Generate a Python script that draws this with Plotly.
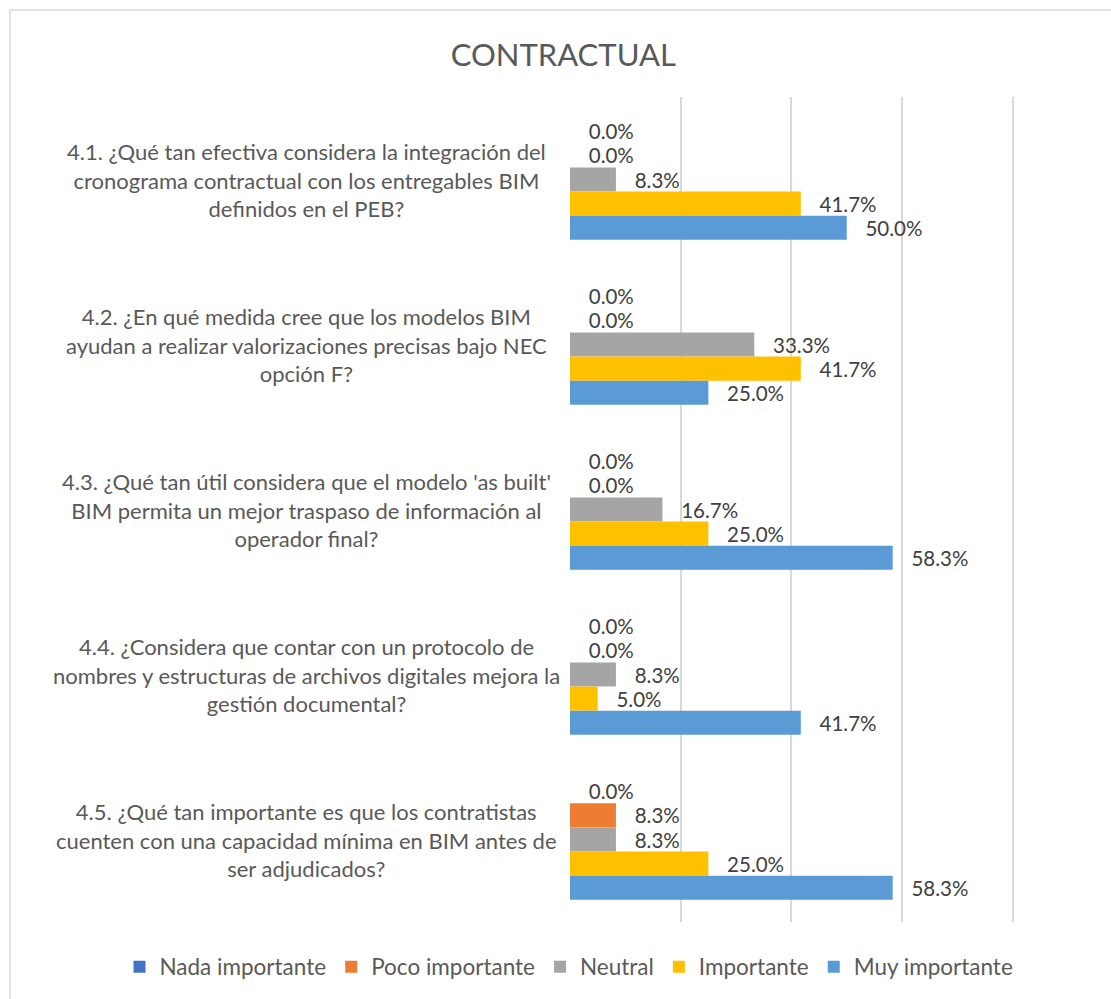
import plotly.graph_objects as go

categories = [
    "4.1. ¿Qué tan efectiva considera la integración del<br>cronograma contractual con los entregables BIM<br>definidos en el PEB?",
    "4.2. ¿En qué medida cree que los modelos BIM<br>ayudan a realizar valorizaciones precisas bajo NEC<br>opción F?",
    "4.3. ¿Qué tan útil considera que el modelo 'as built'<br>BIM permita un mejor traspaso de información al<br>operador final?",
    "4.4. ¿Considera que contar con un protocolo de<br>nombres y estructuras de archivos digitales mejora la<br>gestión documental?",
    "4.5. ¿Qué tan importante es que los contratistas<br>cuenten con una capacidad mínima en BIM antes de<br>ser adjudicados?",
]
cat_ids = ["Q4.1", "Q4.2", "Q4.3", "Q4.4", "Q4.5"]

series_names = ["Nada importante", "Poco importante", "Neutral", "Importante", "Muy importante"]
nada = [0.0, 0.0, 0.0, 0.0, 0.0]
poco = [0.0, 0.0, 0.0, 0.0, 0.083]
neutral = [0.083, 0.333, 0.167, 0.083, 0.083]
importante = [0.417, 0.417, 0.250, 0.050, 0.250]
muy = [0.500, 0.250, 0.583, 0.417, 0.583]
colors = ["#4472C4", "#ED7D31", "#A5A5A5", "#FFC000", "#5B9BD5"]

FONT = "Lato, Open Sans, sans-serif"
W, H = 1111, 999
ML, MR, MT, MB = 10, 10, 97, 77
PW = W - ML - MR
PH = H - MT - MB
PAD = "\u00a0\u00a0\u00a0"


def px_x(p):
    return (p - ML) / PW


def px_y(p):
    return (H - MB - p) / PH


fig = go.Figure()
for name, vals, col in zip(series_names, [nada, poco, neutral, importante, muy], colors):
    fig.add_trace(go.Bar(
        y=cat_ids, x=vals, name=name, orientation="h",
        marker=dict(color=col, line=dict(width=0)),
        text=[f"{PAD}{v*100:.1f}%" for v in vals],
        textposition="outside", cliponaxis=False,
        textfont=dict(family=FONT, size=20.5, color="#404040"),
    ))

for cid, label in zip(cat_ids, categories):
    fig.add_annotation(
        x=px_x(306), xref="paper", y=cid, yref="y", text=label, showarrow=False,
        xanchor="center", yanchor="middle", align="center",
        font=dict(family=FONT, size=22, color="#595959"),
    )

fig.add_shape(type="rect", xref="paper", yref="paper",
              x0=px_x(10), x1=px_x(1112), y0=px_y(1002), y1=px_y(10),
              line=dict(color="#D9D9D9", width=1.5), fillcolor="rgba(0,0,0,0)", layer="below")

fig.update_layout(
    width=W, height=H,
    margin=dict(l=ML, r=MR, t=MT, b=MB, autoexpand=False),
    paper_bgcolor="white", plot_bgcolor="white",
    barmode="group", bargap=0.27, bargroupgap=0,
    title=dict(text="CONTRACTUAL", x=0.507, xref="container", xanchor="center",
               y=1 - 55 / H, yref="container", yanchor="middle",
               font=dict(family=FONT, size=31, color="#595959")),
    xaxis=dict(domain=[px_x(570), px_x(1015)], range=[0, 0.804], tickvals=[0, 0.2, 0.4, 0.6, 0.8],
               showgrid=True, gridcolor="#D9D9D9", gridwidth=1.5,
               showticklabels=False, zeroline=False, showline=False, fixedrange=True),
    yaxis=dict(type="category", autorange="reversed", showticklabels=False, showgrid=False,
               zeroline=False, showline=False),
    legend=dict(orientation="h", x=px_x(569), xref="paper", xanchor="center",
                y=px_y(967), yref="paper", yanchor="middle",
                font=dict(family=FONT, size=22.5, color="#595959"),
                itemwidth=30, traceorder="normal", tracegroupgap=0),
    showlegend=True,
)
fig.write_html("out.html", config={"displayModeBar": False},
               post_script="document.body.style.margin='0';document.body.style.overflow='hidden';")
